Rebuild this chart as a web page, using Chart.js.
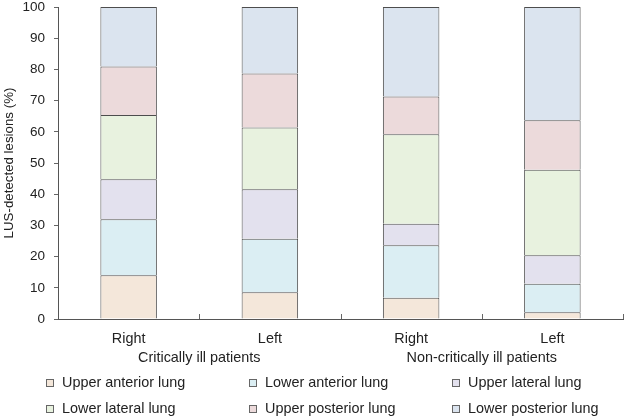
<!DOCTYPE html>
<html>
<head>
<meta charset="utf-8">
<script src="https://cdn.jsdelivr.net/npm/chart.js@4"></script>
<style>
  body { margin: 0; background: #fff; }
  #box { position: relative; width: 625px; height: 417px; }
  #myChart { display: block; }
  #legenda {
    position: absolute; left: 46px; top: 369px; width: 610px;
    display: grid; grid-template-columns: 203px 203px 203px;
    font-family: "Liberation Sans", Arial, sans-serif; font-size: 14.4px; color: #222;
  }
  .item { height: 26px; line-height: 26px; white-space: nowrap; }
  .quadrado {
    display: inline-block; width: 6px; height: 6px; border: 1px solid #666;
    margin-right: 8px; vertical-align: 0px;
  }
</style>
</head>
<body>
<div id="box">
  <canvas id="myChart" width="625" height="417"></canvas>
  <div id="legenda"></div>
</div>
<script>
// dados (%)
const categorias = ['Right', 'Left', 'Right', 'Left'];
const grupos = ['Critically ill patients', 'Non-critically ill patients'];
const nomes = ['Upper anterior lung', 'Lower anterior lung', 'Upper lateral lung',
               'Lower lateral lung', 'Upper posterior lung', 'Lower posterior lung'];
const upperAnterior = [14.0, 8.6, 6.8, 2.2];
const lowerAnterior = [18.0, 17.1, 16.8, 9.1];
const upperLateral = [12.8, 15.9, 6.9, 9.1];
const lowerLateral = [20.6, 19.8, 28.7, 27.4];
const upperPosterior = [15.5, 17.3, 12.1, 15.9];
const lowerPosterior = [19.1, 21.3, 28.7, 36.3];
const yTicks = [0, 10, 20, 30, 40, 50, 60, 70, 80, 90, 100];

const series = [upperAnterior, lowerAnterior, upperLateral, lowerLateral, upperPosterior, lowerPosterior];
const cores = ['#f4e7da', '#dbeef3', '#e3e1ee', '#e8f2df', '#ecdadb', '#dbe4ef'];
const fonte = '"Liberation Sans", Arial, sans-serif';

var datasets = series.map(function (valores, i) {
    return {
        label: nomes[i],
        data: valores,
        backgroundColor: cores[i],
        borderColor: '#4d4d4d',
        borderWidth: 1
    };
});

// rotulos dos grupos e tracinhos do eixo x
const extrasEixoX = {
    id: 'extrasEixoX',
    afterDraw: function (chart) {
        var ctx = chart.ctx;
        var x = chart.scales.x;
        var base = chart.chartArea.bottom;
        var passo = x.getPixelForValue(1) - x.getPixelForValue(0);
        ctx.save();
        ctx.strokeStyle = '#666';
        ctx.lineWidth = 1;
        for (var i = 0; i < categorias.length; i++) {
            var px = Math.round(x.getPixelForValue(i) + passo / 2) + 0.5;
            ctx.beginPath();
            ctx.moveTo(px, base);
            ctx.lineTo(px, base - 5);
            ctx.stroke();
        }
        ctx.fillStyle = '#222';
        ctx.font = '14.4px ' + fonte;
        ctx.textAlign = 'center';
        ctx.textBaseline = 'middle';
        for (var g = 0; g < grupos.length; g++) {
            var meio = (x.getPixelForValue(g * 2) + x.getPixelForValue(g * 2 + 1)) / 2;
            ctx.fillText(grupos[g], meio, 358);
        }
        ctx.restore();
    }
};

const ctx = document.getElementById('myChart');

new Chart(ctx, {
    type: 'bar',
    data: {
        labels: categorias,
        datasets: datasets
    },
    options: {
        responsive: false,
        animation: false,
        layout: { padding: { top: 0, right: 2, left: 0, bottom: 0 } },
        datasets: {
            bar: { categoryPercentage: 0.4, barPercentage: 1 }
        },
        plugins: {
            legend: { display: false },
            tooltip: { enabled: false }
        },
        scales: {
            x: {
                stacked: true,
                afterFit: function (scale) {
                    scale.height = 98;
                    scale.paddingTop = 0;
                },
                grid: { display: false, drawTicks: false },
                border: { display: true, color: '#555', width: 1 },
                ticks: {
                    color: '#222',
                    padding: 11,
                    font: { family: fonte, size: 14.4 }
                }
            },
            y: {
                stacked: true,
                min: 0,
                max: 100,
                afterFit: function (scale) {
                    scale.width = 58;
                    scale.paddingTop = 7;
                    scale.paddingBottom = 0;
                },
                afterBuildTicks: function (scale) {
                    scale.ticks = yTicks.map(function (v) { return { value: v }; });
                },
                grid: { drawOnChartArea: false, drawTicks: true, tickLength: 4, color: '#666' },
                border: { display: true, color: '#555', width: 1 },
                ticks: {
                    color: '#222',
                    padding: 9,
                    font: { family: fonte, size: 13.5, lineHeight: 1 }
                },
                title: {
                    display: true,
                    text: 'LUS-detected lesions (%)',
                    color: '#222',
                    padding: { top: 1, bottom: 0 },
                    font: { family: fonte, size: 13.3 }
                }
            }
        }
    },
    plugins: [extrasEixoX]
});

// legenda em 3 colunas
var legenda = document.getElementById('legenda');
nomes.forEach(function (nome, i) {
    var item = document.createElement('div');
    item.className = 'item';
    var q = document.createElement('span');
    q.className = 'quadrado';
    q.style.background = cores[i];
    item.appendChild(q);
    item.appendChild(document.createTextNode(nome));
    legenda.appendChild(item);
});
</script>
</body>
</html>
